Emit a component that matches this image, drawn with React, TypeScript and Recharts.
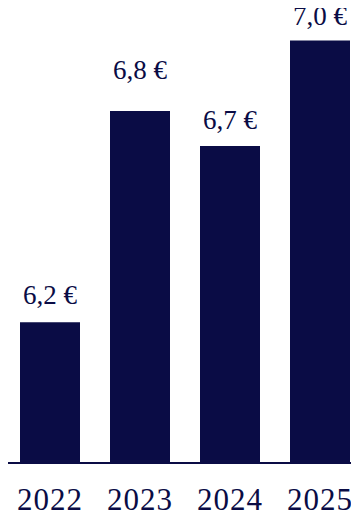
import React from "react";
import { BarChart, Bar, XAxis, YAxis, LabelList } from "recharts";

const years = ["2022", "2023", "2024", "2025"];
const values = [6.2, 6.8, 6.7, 7.0];
const valueLabels = ["6,2 €", "6,8 €", "6,7 €", "7,0 €"];

const data = years.map((y, i) => ({ year: y, value: values[i], label: valueLabels[i] }));

const NAVY = "#0a0c45";
const FONT = "'Liberation Serif', 'DejaVu Serif', serif";
const labelGaps = [18, 32, 17, 15];

const renderLabel = (props: any) => {
  const { x, y, width, index, value } = props;
  const gap = labelGaps[index] ?? 17;
  return (
    <text
      x={x + width / 2}
      y={y - gap}
      textAnchor="middle"
      fill={NAVY}
      style={{ fontSize: 27, fontFamily: FONT }}
    >
      {value}
    </text>
  );
};

export default function App() {
  return (
    <div style={{ margin: "-8px 0 0 -8px", width: 359, height: 517, overflow: "hidden" }}>
      <BarChart
        width={365}
        height={517}
        data={data}
        margin={{ top: 0, right: 0, bottom: 0, left: 5 }}
        barCategoryGap="16.67%"
      >
        <YAxis hide domain={[5.8, 7.115]} />
        <XAxis
          dataKey="year"
          height={54}
          axisLine={{ stroke: NAVY, strokeWidth: 2 }}
          tickLine={false}
          tickSize={0}
          tickMargin={25}
          tick={{ fill: NAVY, fontSize: 31, fontFamily: FONT, letterSpacing: 1 }}
          interval={0}
        />
        <Bar dataKey="value" fill={NAVY} isAnimationActive={false}>
          <LabelList dataKey="label" content={renderLabel} />
        </Bar>
      </BarChart>
    </div>
  );
}
